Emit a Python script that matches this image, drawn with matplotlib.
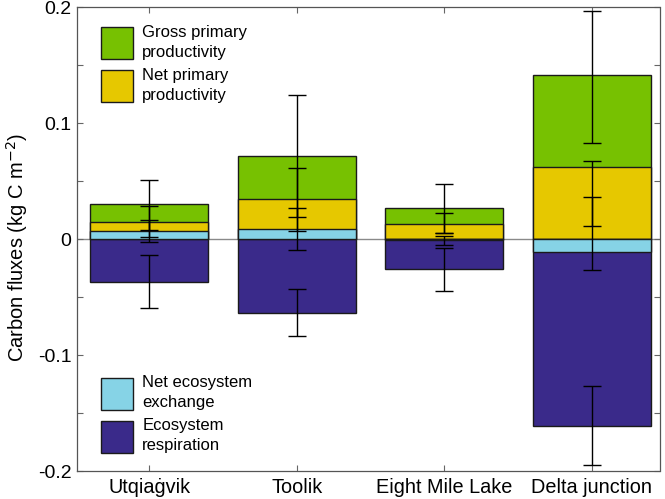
import numpy as np
import matplotlib
matplotlib.use("Agg")
import matplotlib.pyplot as plt

plt.rcParams['font.family'] = ['Liberation Sans', 'DejaVu Sans']

sites = ["Utqiaġvik", "Toolik", "Eight Mile Lake", "Delta junction"]

gpp = [0.0300, 0.0716, 0.0264, 0.1417]
npp = [0.0149, 0.0342, 0.0129, 0.0618]
nee = [0.0069, 0.0083, -0.0010, -0.0115]
er = [-0.0368, -0.0640, -0.0261, -0.1610]

# error bar extents (lower, upper)
gpp_lo = [0.0078, 0.0191, 0.0050, 0.0830]
gpp_hi = [0.0509, 0.1241, 0.0471, 0.1965]
npp_lo = [0.0014, 0.0072, 0.0048, 0.0110]
npp_hi = [0.0287, 0.0612, 0.0221, 0.0670]
nee_lo = [-0.0026, -0.0095, -0.0052, -0.0270]
nee_hi = [0.0164, 0.0264, 0.0029, 0.0365]
er_lo = [-0.0598, -0.0840, -0.0448, -0.1945]
er_hi = [-0.0138, -0.0434, -0.0075, -0.1267]

yticks = [-0.2, -0.15, -0.1, -0.05, 0, 0.05, 0.1, 0.15, 0.2]
yticklabels = ["-0.2", "", "-0.1", "", "0", "", "0.1", "", "0.2"]

labels = ["Gross primary\nproductivity", "Net primary\nproductivity",
          "Net ecosystem\nexchange", "Ecosystem\nrespiration"]
colors = ["#77c101", "#e6c800", "#86d3e6", "#3a2a8a"]

fig = plt.figure(figsize=(6.65, 4.99), dpi=100)
ax = fig.add_axes([77/665, 1 - 471/499, 582.5/665, 464/499])

x = np.arange(1, len(sites) + 1)
w = 0.8
ax.axhline(0, color="#8a8a8a", lw=1.0, zorder=0.5)

series = [(gpp, gpp_lo, gpp_hi, 0), (npp, npp_lo, npp_hi, 1),
          (er, er_lo, er_hi, 3), (nee, nee_lo, nee_hi, 2)]
handles = {}
for vals, lo, hi, ci in series:
    b = ax.bar(x, vals, width=w, color=colors[ci], edgecolor="#1a1a1a",
               linewidth=1.0, zorder=2)
    handles[ci] = b
for vals, lo, hi, ci in series:
    v = np.array(vals)
    yerr = [v - np.array(lo), np.array(hi) - v]
    ax.errorbar(x, v, yerr=yerr, fmt="none", ecolor="black", elinewidth=1.0,
                capsize=6.5, capthick=1.0, zorder=3)

ax.set_xlim(0.51, 4.46)
ax.set_ylim(-0.2, 0.2)
ax.set_xticks(x)
ax.set_xticklabels(sites, fontsize=14.3)
ax.set_yticks(yticks)
ax.set_yticklabels(yticklabels, fontsize=14)
ax.tick_params(direction="in", length=4, width=0.8, color="#666666",
               top=True, right=True)
ax.tick_params(axis="x", pad=5)
ax.tick_params(axis="y", pad=4)
for s in ax.spines.values():
    s.set_color("#555555")
    s.set_linewidth(0.9)
ax.set_ylabel("Carbon fluxes (kg C m$^{-2}$)", fontsize=14.5)
ax.yaxis.set_label_coords(-0.081, (471 - 247.5) / 464)

hh = 2.58
leg1 = ax.legend([handles[0], handles[1]], labels[:2], loc="upper left",
                 bbox_to_anchor=(24/582.5, 1 - 18/464), frameon=False,
                 fontsize=12, handlelength=1.92, handleheight=hh,
                 handletextpad=0.55, labelspacing=0.49, borderpad=0,
                 borderaxespad=0)
for t in leg1.get_texts():
    t.set_linespacing(1.4)
ax.add_artist(leg1)
leg2 = ax.legend([handles[2], handles[3]], labels[2:], loc="lower left",
                 bbox_to_anchor=(24/582.5, 18/464), frameon=False,
                 fontsize=12, handlelength=1.92, handleheight=hh,
                 handletextpad=0.55, labelspacing=0.49, borderpad=0,
                 borderaxespad=0)
for t in leg2.get_texts():
    t.set_linespacing(1.4)

fig.savefig("out.png", dpi=100)
